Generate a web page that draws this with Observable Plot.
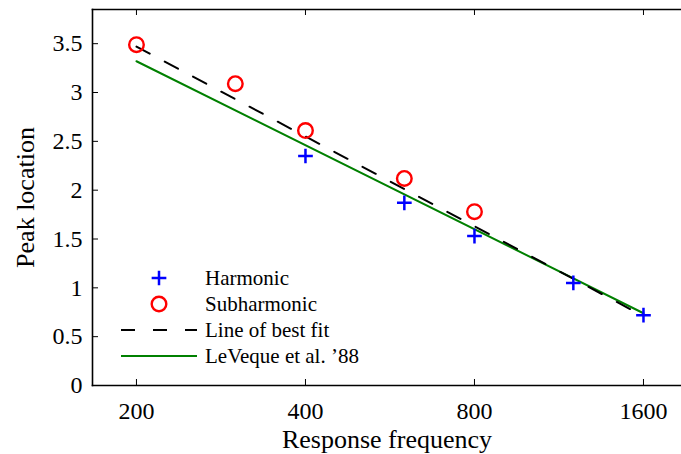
<!DOCTYPE html>
<html>
<head>
<meta charset="utf-8">
<script src="https://cdn.jsdelivr.net/npm/d3@7"></script>
<script src="https://cdn.jsdelivr.net/npm/@observablehq/plot@0.6"></script>
<style>
  html, body { margin: 0; padding: 0; background: #fff; }
  #chart { width: 681px; height: 454px; }
</style>
</head>
<body>
<div id="chart"></div>
<script>
// ---- data ----
const harmonicFreq = [400, 600, 800, 1200, 1600];
const harmonicPeak = [2.35, 1.87, 1.53, 1.05, 0.72];
const subharmonicFreq = [200, 300, 400, 600, 800];
const subharmonicPeak = [3.49, 3.09, 2.61, 2.12, 1.78];
const bestFitFreq = [200, 1600];
const bestFitPeak = [3.47, 0.71];
const levequeFreq = [200, 1600];
const levequePeak = [3.32, 0.74];
const xTicks = [200, 400, 800, 1600];
const xTickLabels = ["200", "400", "800", "1600"];
const yTicks = [0, 0.5, 1, 1.5, 2, 2.5, 3, 3.5];
const yTickLabels = ["0", "0.5", "1", "1.5", "2", "2.5", "3", "3.5"];
const xLabel = "Response frequency";
const yLabel = "Peak location";
const legendLabels = ["Harmonic", "Subharmonic", "Line of best fit", "LeVeque et al. \u201988"];

const harmonic = harmonicFreq.map((x, i) => ({x, y: harmonicPeak[i]}));
const subharmonic = subharmonicFreq.map((x, i) => ({x, y: subharmonicPeak[i]}));
const bestFit = bestFitFreq.map((x, i) => ({x, y: bestFitPeak[i]}));
const leveque = levequeFreq.map((x, i) => ({x, y: levequePeak[i]}));

const W = 681, H = 454;
const mL = 92, mT = 9, mB = 69, mR = 0;
const plotW = W - mL - mR, plotH = H - mT - mB;
const serif = "'Liberation Serif', 'Times New Roman', serif";
const DASH = "15,17";

const chart = Plot.plot({
  width: W,
  height: H,
  marginLeft: mL,
  marginTop: mT,
  marginBottom: mB,
  marginRight: mR,
  style: {fontFamily: serif, background: "#fff", color: "#000", overflow: "visible"},
  x: {type: "log", base: 2, domain: [167, 1870]},
  y: {domain: [0, 3.85]},
  marks: [
    Plot.axisX({ticks: xTicks, tickFormat: d => xTickLabels[xTicks.indexOf(d)], tickSize: 0, tickPadding: 16, fontSize: 24, label: null}),
    Plot.axisY({ticks: yTicks, tickFormat: d => yTickLabels[yTicks.indexOf(d)], tickSize: 0, tickPadding: 10, fontSize: 24, label: null}),
    Plot.tickX(xTicks, {x: d => d, insetTop: plotH - 6, stroke: "#000", strokeWidth: 1}),
    Plot.tickX(xTicks, {x: d => d, insetBottom: plotH - 6, stroke: "#000", strokeWidth: 1}),
    Plot.tickY(yTicks, {y: d => d, insetRight: plotW - 6, stroke: "#000", strokeWidth: 1}),
    Plot.frame({anchor: "left", stroke: "#000", strokeWidth: 1.6}),
    Plot.frame({anchor: "top", stroke: "#000", strokeWidth: 1.6}),
    Plot.frame({anchor: "bottom", stroke: "#000", strokeWidth: 1.6}),
    Plot.line(leveque, {x: "x", y: "y", stroke: "#008000", strokeWidth: 2}),
    Plot.line(bestFit, {x: "x", y: "y", stroke: "#000", strokeWidth: 2, strokeDasharray: DASH}),
    Plot.dot(harmonic, {x: "x", y: "y", symbol: "plus", r: 4.8, stroke: "#0000ff", strokeWidth: 2.5}),
    Plot.dot(subharmonic, {x: "x", y: "y", r: 7.3, stroke: "#ff0000", fill: "none", strokeWidth: 2.4}),
    Plot.text([xLabel], {frameAnchor: "bottom", lineAnchor: "bottom", textAnchor: "middle", dy: 62, fontSize: 26, fill: "#000"}),
    Plot.text([yLabel], {frameAnchor: "left", lineAnchor: "bottom", textAnchor: "middle", rotate: -90, dx: -59, fontSize: 26, fill: "#000"})
  ]
});

document.getElementById("chart").appendChild(chart);

// ---- legend (inside the axes, lower left) ----
const svg = d3.select(chart);
const lg = svg.append("g")
  .style("font-family", serif)
  .style("font-size", "21px")
  .style("text-anchor", "start");
const rowY = i => 278 + i * 26;
const symX = 159, lineX1 = 121, lineX2 = 197, textX = 205;
legendLabels.forEach((label, i) => {
  const y = rowY(i);
  if (i === 0) {
    lg.append("path")
      .attr("transform", `translate(${symX},${y})`)
      .attr("d", d3.symbol(d3.symbolPlus, Math.PI * 4.8 * 4.8)())
      .attr("stroke", "#0000ff").attr("stroke-width", 2.5).attr("fill", "none");
  } else if (i === 1) {
    lg.append("circle").attr("cx", symX).attr("cy", y).attr("r", 7.3)
      .attr("stroke", "#ff0000").attr("stroke-width", 2.4).attr("fill", "none");
  } else if (i === 2) {
    lg.append("line").attr("x1", lineX1).attr("x2", lineX2).attr("y1", y).attr("y2", y)
      .attr("stroke", "#000").attr("stroke-width", 2).attr("stroke-dasharray", "14,18");
  } else {
    lg.append("line").attr("x1", lineX1).attr("x2", lineX2).attr("y1", y).attr("y2", y)
      .attr("stroke", "#008000").attr("stroke-width", 2);
  }
  lg.append("text")
    .attr("x", textX).attr("y", y + 7)
    .style("text-anchor", "start")
    .style("font-size", "21px")
    .attr("fill", "#000")
    .text(label);
});
</script>
</body>
</html>
